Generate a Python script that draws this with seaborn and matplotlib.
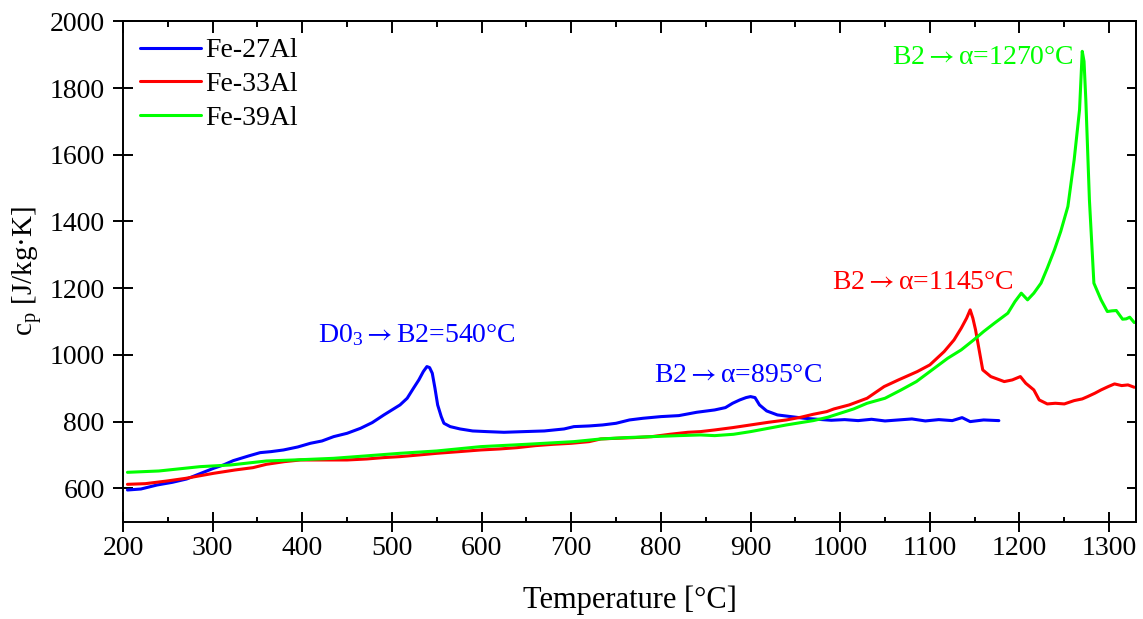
import numpy as np
import pandas as pd
import matplotlib
matplotlib.use("Agg")
import matplotlib.pyplot as plt
import seaborn as sns
from matplotlib.ticker import MultipleLocator

# Specific heat of Fe-Al alloys versus temperature
t_fe27 = [205, 220, 238, 255, 271, 285, 301, 312, 323, 340, 353, 365, 379, 395, 409,
          422, 435, 450, 465, 478, 491, 500, 509, 517, 524, 530, 535, 539, 542, 545,
          548, 551, 555, 558, 565, 576, 590, 606, 625, 647, 670, 692, 703, 720, 735,
          750, 765, 780, 800, 820, 840, 860, 872, 880, 888, 895, 900, 905, 910, 918,
          930, 945, 960, 975, 990, 1005, 1020, 1035, 1050, 1065, 1080, 1095, 1110,
          1125, 1136, 1145, 1160, 1177]
cp_fe27 = [595, 598, 610, 618, 628, 643, 660, 670, 683, 697, 707, 710, 715, 724, 735,
           742, 755, 765, 780, 797, 820, 835, 850, 870, 900, 925, 950, 965, 962, 945,
           900, 850, 815, 795, 785, 778, 772, 770, 768, 770, 772, 778, 785, 787, 790,
           795, 805, 810, 815, 818, 828, 835, 842, 855, 865, 872, 875, 872, 850, 832,
           820, 815, 810, 807, 804, 806, 803, 807, 802, 805, 808, 802, 806, 803, 812,
           800, 805, 803]

t_fe33 = [205, 225, 249, 270, 301, 325, 345, 360, 380, 398, 420, 450, 472, 490, 509,
          530, 550, 575, 599, 620, 640, 660, 680, 700, 720, 733, 750, 770, 790, 810,
          830, 844, 860, 880, 900, 920, 940, 956, 970, 985, 993, 1010, 1030, 1049,
          1065, 1086, 1100, 1116, 1127, 1135, 1141, 1145, 1148, 1151, 1155, 1159, 1168,
          1183, 1192, 1201, 1207, 1216, 1222, 1231, 1240, 1250, 1261, 1270, 1276, 1284,
          1291, 1299, 1306, 1314, 1321, 1328]
cp_fe33 = [612, 614, 622, 630, 645, 655, 662, 672, 680, 685, 685, 685, 688, 692, 695,
           700, 705, 710, 715, 718, 722, 728, 732, 735, 740, 748, 750, 752, 755, 762,
           768, 770, 775, 782, 790, 798, 805, 813, 822, 830, 838, 850, 870, 905,
           925, 950, 970, 1010, 1045, 1080, 1110, 1135, 1110, 1075, 1015, 955, 935,
           920, 925, 935, 915, 895, 865, 853, 855, 853, 863, 868, 875, 885,
           895, 905, 913, 908, 910, 903]

t_fe39 = [205, 240, 286, 320, 360, 400, 435, 470, 509, 550, 599, 650, 703, 733, 760,
          790, 820, 844, 860, 881, 900, 920, 940, 956, 970, 986, 1000, 1015, 1030, 1050,
          1068, 1085, 1105, 1120, 1135, 1149, 1160, 1172, 1187, 1195, 1202, 1209, 1216,
          1224, 1231, 1239, 1246, 1254, 1261, 1267, 1270, 1272, 1274, 1278, 1283, 1291,
          1298, 1303, 1308, 1315, 1319, 1323, 1328]
cp_fe39 = [648, 652, 665, 670, 682, 686, 690, 697, 705, 712, 725, 732, 740, 748, 752,
           755, 758, 760, 758, 762, 770, 780, 790, 797, 803, 813, 825, 838, 855, 870,
           895, 920, 960, 990, 1015, 1045, 1070, 1095, 1125, 1160, 1185, 1165, 1185,
           1215, 1260, 1315, 1370, 1445, 1585, 1735, 1910, 1880, 1765, 1465, 1215, 1165,
           1130, 1132, 1133, 1107, 1108, 1113, 1097]

alloys = ["Fe-27Al", "Fe-33Al", "Fe-39Al"]
colors = ["#0000ff", "#ff0000", "#00ff00"]

df = pd.concat([
    pd.DataFrame({"T": t_fe27, "cp": cp_fe27, "alloy": alloys[0]}),
    pd.DataFrame({"T": t_fe33, "cp": cp_fe33, "alloy": alloys[1]}),
    pd.DataFrame({"T": t_fe39, "cp": cp_fe39, "alloy": alloys[2]}),
], ignore_index=True)

sns.set_style("ticks")
plt.rcParams["font.family"] = ["Liberation Serif", "DejaVu Serif"]
plt.rcParams["mathtext.fontset"] = "stix"
plt.rcParams["text.color"] = "black"
plt.rcParams["axes.labelcolor"] = "black"
plt.rcParams["xtick.color"] = "black"
plt.rcParams["ytick.color"] = "black"

# arrow as an ordinary math atom (no relation spacing)
ARROW = r"${\rightarrow}$"

fig = plt.figure(figsize=(11.43, 6.19), dpi=100)
ax = fig.add_axes([0.1076, 0.1572, 0.8863, 0.8084])

sns.lineplot(data=df, x="T", y="cp", hue="alloy", palette=colors,
             estimator=None, sort=False, linewidth=2.2, ax=ax)

ax.set_xlim(200, 1330)
ax.set_ylim(500, 2000)
ax.xaxis.set_major_locator(MultipleLocator(100))
ax.xaxis.set_minor_locator(MultipleLocator(50))
ax.set_yticks(np.arange(600, 2001, 200))

for sp in ax.spines.values():
    sp.set_visible(True)
    sp.set_linewidth(1.4)
    sp.set_color("black")

ax.tick_params(axis="both", which="major", direction="inout", length=14.4,
               width=1.4, labelsize=20, colors="black", top=False, right=False)
ax.tick_params(axis="x", which="major", pad=3.0)
ax.tick_params(axis="y", which="major", pad=6.0)
ax.tick_params(axis="x", which="minor", direction="in", length=3.8, width=1.4, top=False)

top = ax.secondary_xaxis("top")
top.xaxis.set_major_locator(MultipleLocator(100))
top.xaxis.set_minor_locator(MultipleLocator(50))
top.tick_params(axis="x", which="major", direction="in", length=8.4, width=1.4, labeltop=False)
top.tick_params(axis="x", which="minor", direction="in", length=4.0, width=1.4)
top.spines["top"].set_linewidth(1.4)

right = ax.secondary_yaxis("right")
right.set_yticks(np.arange(600, 2001, 200))
right.tick_params(axis="y", which="major", direction="in", length=6.7, width=1.4, labelright=False)
right.spines["right"].set_linewidth(1.4)

ax.set_xlabel("Temperature [°C]", fontsize=22, labelpad=18)
ax.set_ylabel(r"c$\mathregular{_p}$ [J/kg·K]", fontsize=21, labelpad=4)

ax.legend(loc="upper left", frameon=False, fontsize=20, handlelength=2.2,
          handletextpad=0.15, borderpad=0.0, borderaxespad=0.6, labelspacing=0.3)

ax.text(1261, 1890, "B2" + ARROW + "α=1270°C", color=colors[2], fontsize=20,
        ha="right", va="center")
ax.text(1194, 1218, "B2" + ARROW + "α=1145°C", color=colors[1], fontsize=20,
        ha="right", va="center")
ax.text(418, 1058, r"D0$\mathregular{_3}$" + ARROW + "B2=540°C", color=colors[0],
        fontsize=20, ha="left", va="center")
ax.text(792, 938, "B2" + ARROW + "α=895°C", color=colors[0], fontsize=20,
        ha="left", va="center")

fig.savefig("out.png", dpi=100)
